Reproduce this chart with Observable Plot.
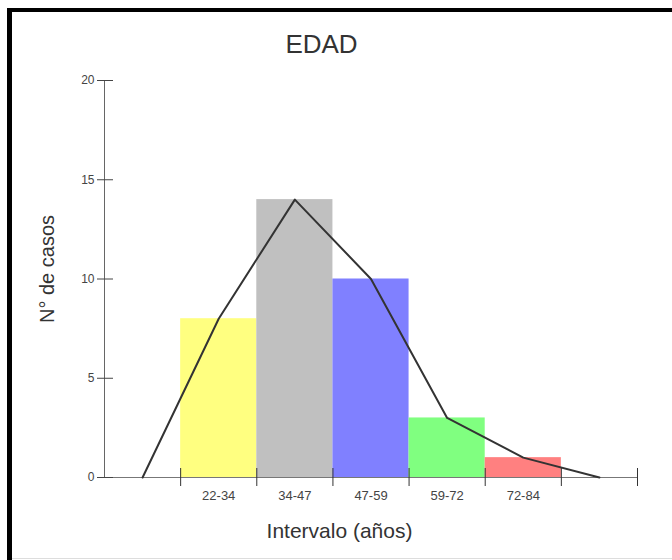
<!DOCTYPE html>
<html><head><meta charset="utf-8">
<script src="https://cdn.jsdelivr.net/npm/d3@7"></script>
<script src="https://cdn.jsdelivr.net/npm/@observablehq/plot@0.6"></script>
<style>
body{margin:0;background:#fff;}
#wrap{position:relative;width:672px;height:560px;overflow:hidden;font-family:"Liberation Sans",Arial,sans-serif;}
#wrap svg{position:absolute;left:0;top:0;}
.bl{position:absolute;background:#000;}
</style></head><body>
<div id="wrap">
<div class="bl" style="left:7px;top:8px;width:5px;height:560px"></div>
<div class="bl" style="left:7px;top:8px;width:665px;height:4px"></div>
<div style="position:absolute;left:12px;top:558px;width:660px;height:1px;background:#ddd"></div>
</div>
<script>
const title = "EDAD";
const xTitle = "Intervalo (años)";
const yTitle = "N° de casos";
const intervals = ["22-34","34-47","47-59","59-72","72-84"];
const counts = [8,14,10,3,1];
const colors = ["#FFFF80","#C0C0C0","#8080FF","#80FF80","#FF8080"];
const yTicks = [0,5,10,15,20];

const bars = intervals.map((label,i)=>({label, i, count: counts[i], color: colors[i]}));
const poly = [0,...counts,0].map((c,k)=>({x: k-0.5, y: c}));
const binEdges = d3.range(0, intervals.length + 2);

const chart = Plot.plot({
  width: 672, height: 560,
  marginLeft: 104, marginRight: 35, marginTop: 80, marginBottom: 83,
  style: {fontFamily: '"Liberation Sans", Arial, sans-serif', color: "#333", background: "transparent"},
  x: {domain: [-1, intervals.length + 1], axis: null},
  y: {domain: [0, 20], axis: null},
  color: {type: "identity"},
  marks: [
    Plot.rectY(bars, {x1: "i", x2: d => d.i + 1, y: "count", fill: "color"}),
    Plot.ruleX([-1], {y1: 0, y2: 20, stroke: "#666", strokeWidth: 1}),
    Plot.ruleY([0], {x1: -1, x2: intervals.length + 1, stroke: "#777", strokeWidth: 1}),
    Plot.axisY({ticks: yTicks, tickSize: 16, dx: 9, tickFormat: () => "", stroke: "#444"}),
    Plot.axisY({ticks: yTicks, tickSize: 0, tickPadding: 10, fontSize: 12, fill: "#444"}),
    Plot.axisX({ticks: binEdges, tickSize: 18, dy: -9, tickFormat: () => "", stroke: "#333"}),
    Plot.text(bars, {x: d => d.i + 0.5, y: 0, text: "label", dy: 18, fontSize: 13, fill: "#444", lineAnchor: "middle"}),
    Plot.line(poly, {x: "x", y: "y", stroke: "#333", strokeWidth: 2}),
    Plot.text([title], {frameAnchor: "top-left", dx: 217, dy: -28, lineAnchor: "bottom", textAnchor: "middle", fontSize: 26, fill: "#333"}),
    Plot.text([xTitle], {frameAnchor: "bottom-left", dx: 235, dy: 60, lineAnchor: "bottom", textAnchor: "middle", fontSize: 21, fill: "#333"}),
    Plot.text([yTitle], {frameAnchor: "left", dx: -57, dy: -10, rotate: -90, lineAnchor: "middle", textAnchor: "middle", fontSize: 20, fill: "#333"})
  ]
});
document.getElementById("wrap").appendChild(chart);
</script>
</body></html>
